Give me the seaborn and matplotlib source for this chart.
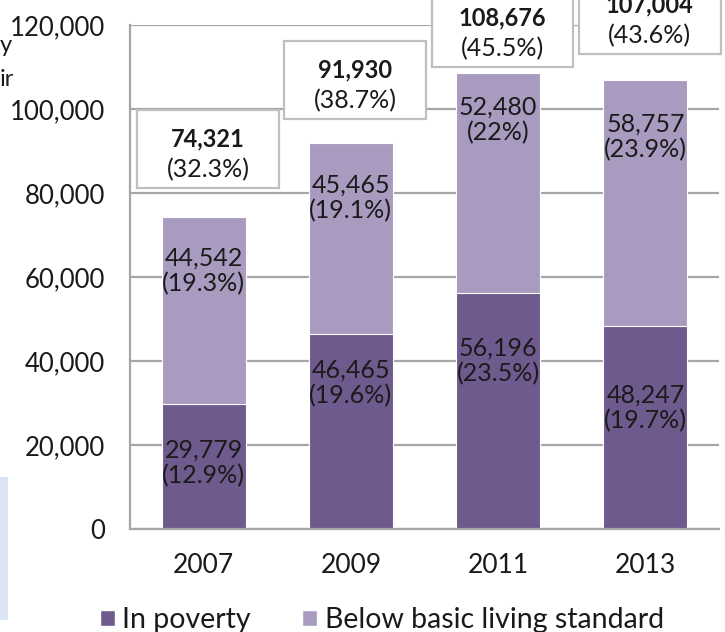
import matplotlib
matplotlib.use("Agg")
import matplotlib.pyplot as plt
from matplotlib.patches import Patch, Rectangle
import seaborn as sns
import pandas as pd

# ---- data ----
years = ["2007", "2009", "2011", "2013"]
in_poverty = [29779, 46465, 56196, 48247]
below_basic = [44542, 45465, 52480, 58757]
totals = [74321, 91930, 108676, 107004]
pct_poverty = ["12.9%", "19.6%", "23.5%", "19.7%"]
pct_below = ["19.3%", "19.1%", "22%", "23.9%"]
pct_total = ["32.3%", "38.7%", "45.5%", "43.6%"]

# label placement (y centre, data units) - hand tuned like the original
y_lab_poverty = [15700, 34800, 40000, 28800]
y_lab_below = [61400, 78800, 97400, 93300]
y_box_total = [90500, 106900, 119300, 122400]

dark = "#6f5a8e"
light = "#a99bc0"
grid_col = "#a6a6a6"
txt = "#1a1a1a"

sns.set_theme(style="white")
plt.rcParams["font.family"] = ["Lato", "DejaVu Sans"]

df = pd.DataFrame({"year": years, "poverty": in_poverty, "total": totals})

fig = plt.figure(figsize=(7.25, 6.32), dpi=100)
ax = fig.add_axes([130 / 725, 103 / 632, 589 / 725, 504 / 632])

sns.barplot(data=df, x="year", y="total", color=light, saturation=1,
            width=0.57, ax=ax, zorder=2, linewidth=0.8)
sns.barplot(data=df, x="year", y="poverty", color=dark, saturation=1,
            width=0.57, ax=ax, zorder=2, linewidth=0.8)

ax.set_ylim(0, 120000)
ax.set_xlim(-0.5, 3.5)
ax.set_yticks(range(0, 120001, 20000))
ax.yaxis.set_major_formatter(matplotlib.ticker.StrMethodFormatter("{x:,.0f}"))
ax.set_xlabel("")
ax.set_ylabel("")
ax.yaxis.grid(True, color=grid_col, linewidth=1.6, zorder=0)
ax.set_axisbelow(True)
for s in ["top", "right"]:
    ax.spines[s].set_visible(False)
for s in ["left", "bottom"]:
    ax.spines[s].set_color(grid_col)
    ax.spines[s].set_linewidth(1.6)
ax.tick_params(axis="y", length=0, pad=18, labelsize=18.5, colors=txt)
ax.tick_params(axis="x", length=0, pad=17, labelsize=19, colors=txt)

fs = 18
for i in range(len(years)):
    ax.text(i, y_lab_poverty[i], f"{in_poverty[i]:,}\n({pct_poverty[i]})",
            ha="center", va="center", fontsize=fs, color=txt,
            linespacing=1.15, zorder=3)
    ax.text(i, y_lab_below[i], f"{below_basic[i]:,}\n({pct_below[i]})",
            ha="center", va="center", fontsize=fs, color=txt,
            linespacing=1.15, zorder=3)
    # white box with total
    cx = i + 0.03
    bw, bh = 0.963, 18600
    ax.add_patch(Rectangle((cx - bw / 2, y_box_total[i] - bh / 2), bw, bh,
                           facecolor="white", edgecolor="#bfbfbf",
                           linewidth=1.6, zorder=4, clip_on=False))
    ax.text(cx, y_box_total[i] + 2300, f"{totals[i]:,}", ha="center",
            va="center", fontsize=fs - 1, fontweight="bold", color=txt,
            zorder=5, clip_on=False)
    ax.text(cx, y_box_total[i] - 4900, f"({pct_total[i]})", ha="center",
            va="center", fontsize=fs, color=txt, zorder=5,
            clip_on=False)

handles = [Patch(facecolor=dark, label="In poverty"),
           Patch(facecolor=light, label="Below basic living standard")]
fig.legend(handles=handles, loc="center left",
           bbox_to_anchor=(86 / 725, 12 / 632), ncol=2, frameon=False,
           fontsize=20.5, handlelength=0.53, handleheight=0.53,
           handletextpad=0.25, columnspacing=1.8, borderpad=0,
           labelcolor=txt)

# bits of the surrounding slide that were cut off in the screenshot
fig.text(0, 1 - 46 / 632, "y", fontsize=17, va="center", ha="left",
         color=txt)
fig.text(0, 1 - 80 / 632, "ir", fontsize=17, va="center", ha="left",
         color=txt)
fig.patches.append(Rectangle((0, 12 / 632), 8 / 725, 143 / 632,
                             transform=fig.transFigure, facecolor="#dce6f2",
                             edgecolor="none"))

fig.savefig("out.png", dpi=100)
